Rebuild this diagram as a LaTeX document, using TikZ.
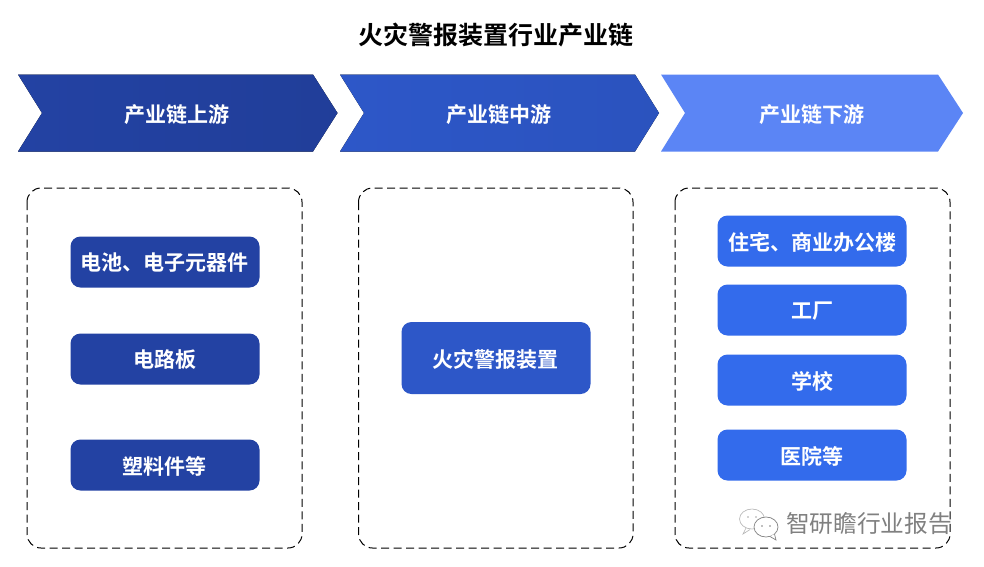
\documentclass[tikz,border=0pt]{standalone}
\usepackage{fontspec}
\setmainfont{Noto Sans CJK SC}
\newfontfamily\cjkb{Noto Sans CJK SC Bold}
\newfontfamily\cjkl{Noto Sans CJK SC}
\definecolor{upc}{HTML}{2342A3}
\definecolor{midc}{HTML}{2D57C8}
\definecolor{downc}{HTML}{5B85F5}
\definecolor{boxr}{HTML}{336BEC}
\definecolor{wm}{HTML}{808080}
\tikzset{
  chevlabel/.style={text=white,font=\cjkb\fontsize{21}{21}\selectfont,inner sep=0pt},
  itembox/.style={rounded corners=10pt,minimum width=189pt,minimum height=51pt,inner sep=0pt,text=white,font=\cjkb\fontsize{21}{21}\selectfont},
  itemtext/.style={inner sep=0pt,text=white,font=\cjkb\fontsize{21}{21}\selectfont},
  panel/.style={draw=black,line width=1pt,dash pattern=on 8pt off 4.5pt,rounded corners=14pt},
}
\begin{document}
\begin{tikzpicture}[x=1pt,y=-1pt]
\useasboundingbox (0,0) rectangle (984,566);
\fill[white] (0,0) rectangle (984,566);
\node[inner sep=0pt,font=\cjkb\fontsize{25}{25}\selectfont] (title) at (496,35) {火灾警报装置行业产业链};
% chevrons
\fill[left color=upc,right color=upc!94!black] (18,74.5) -- (313,74.5) -- (337.5,113) -- (313,151.5) -- (18,151.5) -- (42,113) -- cycle;
\fill[left color=midc,right color=midc!95!black] (340,74.5) -- (635,74.5) -- (659,113) -- (635,151.5) -- (340,151.5) -- (364,113) -- cycle;
\fill[downc] (661,74.5) -- (938,74.5) -- (963,113) -- (938,151.5) -- (661,151.5) -- (685,113) -- cycle;
\node[chevlabel] (c1) at (176.5,115) {产业链上游};
\node[chevlabel] (c2) at (498.5,115) {产业链中游};
\node[chevlabel] (c3) at (811.5,115) {产业链下游};
% panels
\draw[panel] (27,188) rectangle (302,548);
\draw[panel] (358.5,188) rectangle (633,548);
\draw[panel] (675,188) rectangle (950,548);
% items
\node[itembox,fill=upc] (a1) at (165,262) {};
\node[itemtext] at (164,263) {电池、电子元器件};
\node[itembox,fill=upc] (a2) at (165,359) {};
\node[itemtext] at (164.5,360) {电路板};
\node[itembox,fill=upc] (a3) at (165,465) {};
\node[itemtext] at (164.5,466) {塑料件等};
\node[itembox,fill=midc,minimum height=72pt] (b1) at (496,358) {};
\node[itemtext] at (495,359.5) {火灾警报装置};
\node[itembox,fill=boxr] (d1) at (812,241) {};
\node[itemtext] at (812,242) {住宅、商业办公楼};
\node[itembox,fill=boxr] (d2) at (812,310) {};
\node[itemtext] at (812,311) {工厂};
\node[itembox,fill=boxr] (d3) at (812,380) {};
\node[itemtext] at (812,381) {学校};
\node[itembox,fill=boxr] (d4) at (812,455) {};
\node[itemtext] at (812,456) {医院等};
% watermark
\node[inner sep=0pt,text=wm,font=\cjkl\fontsize{23.7}{24}\selectfont] (wmt) at (869,523.5) {智研瞻行业报告};
\draw[wm!60,line width=0.6pt,fill=white] (752,519) ellipse (12.5 and 10);
\draw[wm!60,line width=0.6pt] (746,528) -- (743,534) -- (750,529.5);
\fill[wm!70] (748,517) circle (0.8) (756,517) circle (0.8);
\draw[wm,line width=0.7pt,fill=white] (766,527) ellipse (12 and 10);
\draw[wm,line width=0.7pt,fill=white] (770,536.5) -- (776,540) -- (774.5,534);
\fill[wm] (762,526) circle (0.9) (770,526) circle (0.9);
\end{tikzpicture}
\end{document}
